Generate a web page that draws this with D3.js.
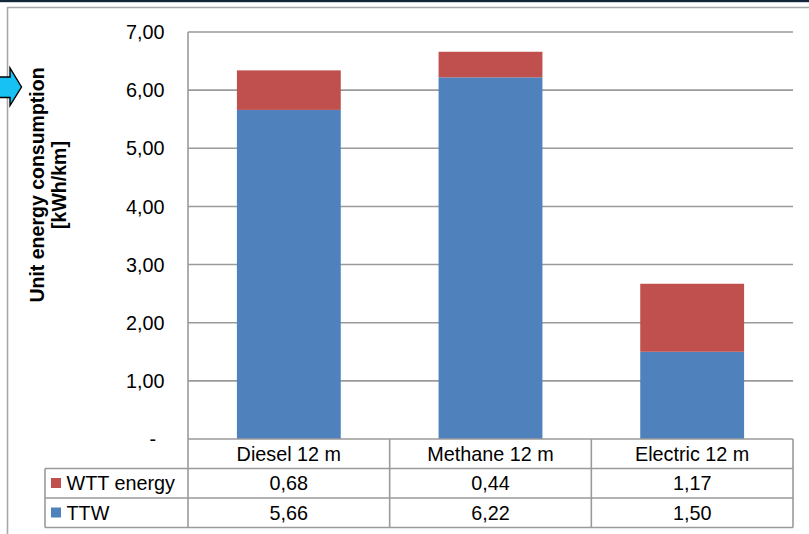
<!DOCTYPE html>
<html>
<head>
<meta charset="utf-8">
<script src="https://cdn.jsdelivr.net/npm/d3@7"></script>
<style>
  html, body { margin: 0; padding: 0; background: #fff; }
  svg { display: block; font-family: "Liberation Sans", Arial, sans-serif; }
</style>
</head>
<body>
<svg id="chart" width="809" height="534"></svg>
<script>
// Unit energy consumption per bus type, split into tank-to-wheel and well-to-tank parts
const categories = ["Diesel 12 m", "Methane 12 m", "Electric 12 m"];
const ttw = [5.66, 6.22, 1.50];
const wtt = [0.68, 0.44, 1.17];
const seriesNames = ["WTT energy", "TTW"];
const yTicks = [0, 1, 2, 3, 4, 5, 6, 7];

const colors = { wtt: "#C0504D", ttw: "#4F81BD" };
const gridColor = "#9a9a9a";
const fontSize = 19.8;

const svg = d3.select("#chart");
const W = 809, H = 534;

const locale = d3.formatLocale({ decimal: ",", thousands: ".", grouping: [3], currency: ["", ""] });
const fmt2 = locale.format(".2f");
const tickFmt = v => v === 0 ? "-" : fmt2(v);

const plot = { left: 188, right: 793, top: 32, bottom: 439 };
const rowH = 29.5;

const x = d3.scaleBand().domain(categories).range([plot.left, plot.right]).padding(0);
const y = d3.scaleLinear().domain([0, 7]).range([plot.bottom, plot.top]);
const barW = x.bandwidth() * 0.515;

// frame decoration at the top and left edge
svg.append("rect").attr("x", 0).attr("y", 0).attr("width", W).attr("height", 2.2).attr("fill", "#14263a");
svg.append("line").attr("x1", 7).attr("x2", W).attr("y1", 7.5).attr("y2", 7.5)
  .attr("stroke", "#a8a8a8").attr("stroke-width", 1.6);
svg.append("line").attr("x1", 7.5).attr("x2", 7.5).attr("y1", 7).attr("y2", H)
  .attr("stroke", "#a8a8a8").attr("stroke-width", 1.6);

// pointer arrow on the left edge
svg.append("path")
  .attr("d", "M-3,77 L10,77 L10,68 L21.5,87 L10,105.5 L10,97.5 L-3,97.5 Z")
  .attr("fill", "#17c1f3").attr("stroke", "#000").attr("stroke-width", 1.4)
  .attr("stroke-linejoin", "miter");

// horizontal gridlines
const grid = svg.append("g");
grid.selectAll("line").data(yTicks.filter(d => d > 0)).join("line")
  .attr("x1", plot.left).attr("x2", plot.right)
  .attr("y1", d => y(d)).attr("y2", d => y(d))
  .attr("stroke", gridColor).attr("stroke-width", 1.6);

// y tick labels
svg.append("g").selectAll("text").data(yTicks).join("text")
  .attr("x", d => d === 0 ? 156 : 164.5)
  .attr("y", d => y(d))
  .attr("dy", "0.36em")
  .attr("text-anchor", "end")
  .attr("font-size", fontSize)
  .attr("fill", "#000")
  .text(tickFmt);

// stacked bars
const bars = svg.append("g");
bars.selectAll("rect.ttw").data(categories).join("rect")
  .attr("class", "ttw")
  .attr("x", d => x(d) + (x.bandwidth() - barW) / 2)
  .attr("width", barW)
  .attr("y", (d, i) => y(ttw[i]))
  .attr("height", (d, i) => y(0) - y(ttw[i]))
  .attr("fill", colors.ttw);
bars.selectAll("rect.wtt").data(categories).join("rect")
  .attr("class", "wtt")
  .attr("x", d => x(d) + (x.bandwidth() - barW) / 2)
  .attr("width", barW)
  .attr("y", (d, i) => y(ttw[i] + wtt[i]))
  .attr("height", (d, i) => y(ttw[i]) - y(ttw[i] + wtt[i]))
  .attr("fill", colors.wtt);

// data table below the plot
const tableLeft = 45;
const r0 = plot.bottom, r1 = r0 + rowH, r2 = r1 + rowH, r3 = r2 + rowH;
const tbl = svg.append("g").attr("stroke", gridColor).attr("stroke-width", 1.6);
// horizontal rules
tbl.append("line").attr("x1", plot.left).attr("x2", plot.right).attr("y1", r0).attr("y2", r0);
[r1, r2, r3].forEach(r => tbl.append("line").attr("x1", tableLeft).attr("x2", plot.right).attr("y1", r).attr("y2", r));
// vertical rules
tbl.append("line").attr("x1", tableLeft).attr("x2", tableLeft).attr("y1", r1).attr("y2", r3);
tbl.append("line").attr("x1", plot.left).attr("x2", plot.left).attr("y1", plot.top).attr("y2", r3);
categories.forEach(c => {
  const xr = x(c) + x.bandwidth();
  tbl.append("line").attr("x1", xr).attr("x2", xr).attr("y1", r0).attr("y2", r3);
});

// category header row
svg.append("g").selectAll("text").data(categories).join("text")
  .attr("x", d => x(d) + x.bandwidth() / 2)
  .attr("y", r0 + 22)
  .attr("text-anchor", "middle")
  .attr("font-size", fontSize)
  .text(d => d);

// series rows: legend key + values
const rows = [
  { name: seriesNames[0], values: wtt, color: colors.wtt, top: r1 },
  { name: seriesNames[1], values: ttw, color: colors.ttw, top: r2 }
];
rows.forEach(row => {
  svg.append("rect").attr("x", 51).attr("y", row.top + 9.5).attr("width", 10).attr("height", 10)
    .attr("fill", row.color);
  svg.append("text").attr("x", 66.5).attr("y", row.top + 21.5)
    .attr("font-size", fontSize).text(row.name);
  svg.append("g").selectAll("text").data(categories).join("text")
    .attr("x", d => x(d) + x.bandwidth() / 2)
    .attr("y", row.top + 21.5)
    .attr("text-anchor", "middle")
    .attr("font-size", fontSize)
    .text((d, i) => fmt2(row.values[i]));
});

// y axis title
const title = svg.append("text")
  .attr("transform", "translate(44,185) rotate(-90)")
  .attr("text-anchor", "middle")
  .attr("font-size", 19.5)
  .attr("font-weight", "bold");
title.append("tspan").attr("x", 0).attr("y", 0).text("Unit energy consumption");
title.append("tspan").attr("x", 0).attr("y", 22).text("[kWh/km]");
</script>
</body>
</html>
